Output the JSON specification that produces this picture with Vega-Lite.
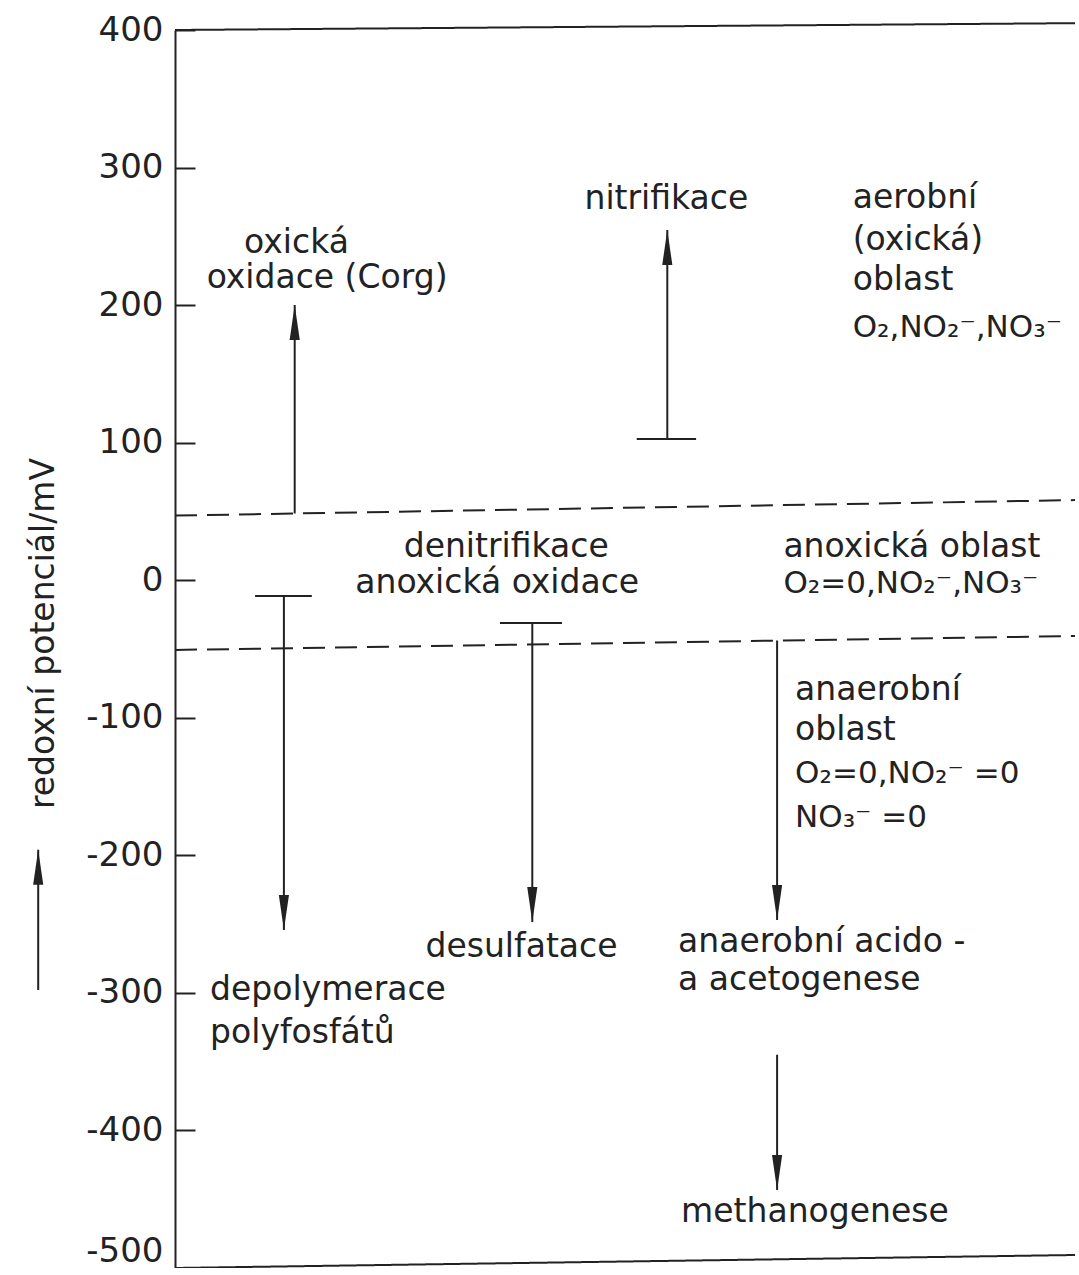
{
  "$schema": "https://vega.github.io/schema/vega-lite/v6.json",
  "autosize": "none",
  "padding": {"left": 175, "top": 30, "right": 0, "bottom": 0},
  "width": 900,
  "height": 1238,
  "background": "white",
  "config": {"view": {"stroke": null}},
  "datasets": {
    "segments": [
      {"u": 0, "v": 400, "u2": 100.5, "v2": 405, "style": "solid"},
      {"u": 0, "v": -500, "u2": 100.5, "v2": -490.5, "style": "solid"},
      {"u": 0, "v": 47, "u2": 100.5, "v2": 58.3, "style": "dash"},
      {"u": 0, "v": -50.7, "u2": 100.5, "v2": -40.5, "style": "dash"},
      {"u": 13.3, "v": 48.5, "u2": 13.3, "v2": 200, "style": "solid"},
      {"u": 54.7, "v": 102.7, "u2": 54.7, "v2": 254.6, "style": "solid"},
      {"u": 51.3, "v": 102.7, "u2": 57.9, "v2": 102.7, "style": "solid"},
      {"u": 8.9, "v": -11.5, "u2": 15.2, "v2": -11.5, "style": "solid"},
      {"u": 12.1, "v": -11.5, "u2": 12.1, "v2": -254.3, "style": "solid"},
      {"u": 36.1, "v": -31.1, "u2": 43.0, "v2": -31.1, "style": "solid"},
      {"u": 39.7, "v": -31.1, "u2": 39.7, "v2": -248.4, "style": "solid"},
      {"u": 66.9, "v": -43.9, "u2": 66.9, "v2": -247, "style": "solid"},
      {"u": 66.9, "v": -345, "u2": 66.9, "v2": -443.3, "style": "solid"},
      {"u": -15.2, "v": -297.9, "u2": -15.2, "v2": -196, "style": "solid"}
    ],
    "heads": [
      {"u": 13.3, "v": 187.3, "dir": "up"},
      {"u": 54.7, "v": 241.9, "dir": "up"},
      {"u": 12.1, "v": -241.6, "dir": "down"},
      {"u": 39.7, "v": -235.7, "dir": "down"},
      {"u": 66.9, "v": -234.3, "dir": "down"},
      {"u": 66.9, "v": -430.6, "dir": "down"},
      {"u": -15.2, "v": -208.7, "dir": "up"}
    ],
    "labels": [
      {"t": "oxická", "u": 13.5, "v": 237.9, "align": "center", "size": 33},
      {"t": "oxidace (Corg)", "u": 16.9, "v": 212.4, "align": "center", "size": 33},
      {"t": "nitrifikace", "u": 54.6, "v": 269.9, "align": "center", "size": 33},
      {"t": "aerobní", "u": 75.3, "v": 270.6, "align": "left", "size": 33},
      {"t": "(oxická)", "u": 75.3, "v": 240.1, "align": "left", "size": 33},
      {"t": "oblast", "u": 75.3, "v": 211.0, "align": "left", "size": 33},
      {"t": "O₂,NO₂⁻,NO₃⁻", "u": 75.3, "v": 176.8, "align": "left", "size": 31},
      {"t": "denitrifikace", "u": 36.8, "v": 16.9, "align": "center", "size": 33},
      {"t": "anoxická oxidace", "u": 35.8, "v": -9.3, "align": "center", "size": 33},
      {"t": "anoxická oblast", "u": 67.6, "v": 16.9, "align": "left", "size": 33},
      {"t": "O₂=0,NO₂⁻,NO₃⁻", "u": 67.6, "v": -9.3, "align": "left", "size": 31},
      {"t": "anaerobní", "u": 68.9, "v": -87.1, "align": "left", "size": 33},
      {"t": "oblast", "u": 68.9, "v": -116.1, "align": "left", "size": 33},
      {"t": "O₂=0,NO₂⁻ =0", "u": 68.9, "v": -147.4, "align": "left", "size": 31},
      {"t": "NO₃⁻ =0", "u": 68.9, "v": -179.4, "align": "left", "size": 31},
      {"t": "desulfatace", "u": 38.5, "v": -273.9, "align": "center", "size": 33},
      {"t": "anaerobní acido -", "u": 55.9, "v": -270.2, "align": "left", "size": 33},
      {"t": "a acetogenese", "u": 55.9, "v": -297.9, "align": "left", "size": 33},
      {"t": "depolymerace", "u": 3.9, "v": -305.1, "align": "left", "size": 33},
      {"t": "polyfosfátů", "u": 3.9, "v": -336.4, "align": "left", "size": 33},
      {"t": "methanogenese", "u": 71.1, "v": -466.5, "align": "center", "size": 33}
    ]
  },
  "encoding": {
    "x": {"field": "u", "type": "quantitative", "scale": {"domain": [0, 100], "nice": false, "zero": false}, "axis": null},
    "y": {
      "field": "v", "type": "quantitative",
      "scale": {"domain": [-500, 400], "nice": false, "zero": false},
      "axis": {
        "values": [-500, -400, -300, -200, -100, 0, 100, 200, 300, 400],
        "grid": false,
        "tickSize": -20,
        "labelPadding": 32,
        "tickWidth": 2,
        "tickColor": "#222",
        "domainColor": "#222",
        "domainWidth": 2,
        "labelFont": "DejaVu Sans",
        "labelFontSize": 34,
        "labelColor": "#222",
        "labelFlush": false,
        "labelOverlap": false,
        "labelBaseline": {"condition": {"test": "datum.value == -500", "value": "bottom"}, "value": "middle"},
        "labelExpr": "'' + datum.value",
        "title": "redoxní potenciál/mV",
        "titleFont": "DejaVu Sans",
        "titleFontSize": 33,
        "titleFontWeight": "normal",
        "titleColor": "#222",
        "titleAngle": -90,
        "titleX": -132,
        "titleY": 603,
        "titleAlign": "center",
        "titleBaseline": "middle"
      }
    }
  },
  "layer": [
    {
      "data": {"name": "segments"},
      "mark": {"type": "rule", "strokeWidth": 2, "color": "#222"},
      "encoding": {
        "x2": {"field": "u2"},
        "y2": {"field": "v2"},
        "strokeDash": {"field": "style", "type": "nominal", "scale": {"domain": ["solid", "dash"], "range": [[1, 0], [22, 10]]}, "legend": null}
      }
    },
    {
      "data": {"name": "heads"},
      "mark": {"type": "point", "filled": true, "opacity": 1, "size": 1225, "color": "#222", "strokeWidth": 0},
      "encoding": {
        "shape": {"field": "dir", "type": "nominal", "scale": {"domain": ["up", "down"], "range": ["M0,-1L0.29,1L-0.29,1Z", "M0,1L0.29,-1L-0.29,-1Z"]}, "legend": null}
      }
    },
    {
      "data": {"name": "labels"},
      "transform": [{"filter": "datum.align === 'left'"}],
      "mark": {"type": "text", "align": "left", "baseline": "alphabetic", "font": "DejaVu Sans", "color": "#222"},
      "encoding": {
        "text": {"field": "t"},
        "size": {"field": "size", "type": "quantitative", "scale": null}
      }
    },
    {
      "data": {"name": "labels"},
      "transform": [{"filter": "datum.align === 'center'"}],
      "mark": {"type": "text", "align": "center", "baseline": "alphabetic", "font": "DejaVu Sans", "color": "#222"},
      "encoding": {
        "text": {"field": "t"},
        "size": {"field": "size", "type": "quantitative", "scale": null}
      }
    }
  ]
}
